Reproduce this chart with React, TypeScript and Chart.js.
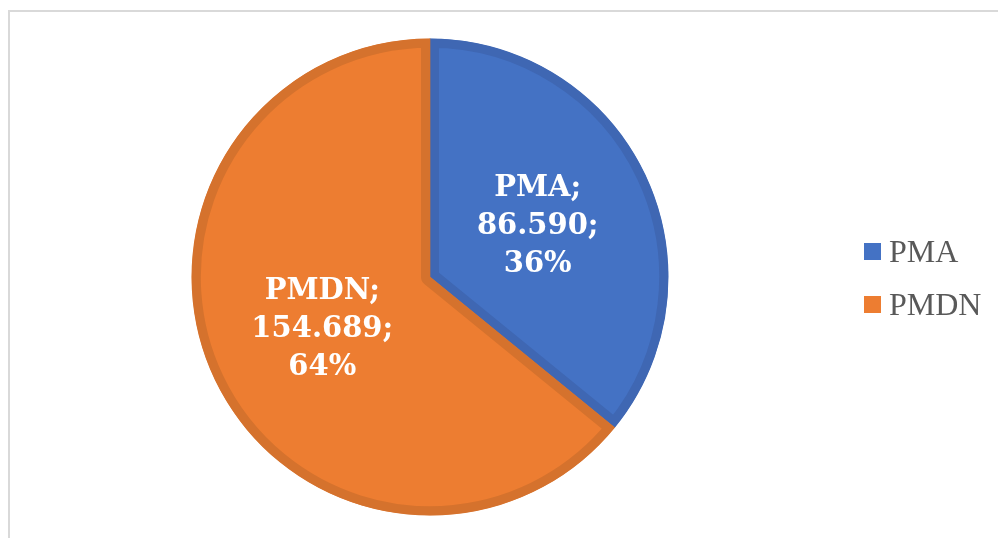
import React, { useEffect, useRef } from "react";
import { Chart, registerables } from "chart.js";

Chart.register(...registerables);

const labels = ["PMA", "PMDN"];
const values = [86.59, 154.689];
const valueTexts = ["86.590", "154.689"];
const percentTexts = ["36%", "64%"];
const fillColors = ["#4472C4", "#ED7D31"];
const borderColors = ["#3F67B3", "#D5722D"];

const framePlugin = {
  id: "frame",
  beforeDraw(chart: any) {
    const ctx = chart.ctx;
    ctx.save();
    ctx.fillStyle = "#ffffff";
    ctx.fillRect(0, 0, chart.width, chart.height);
    ctx.strokeStyle = "#D9D9D9";
    ctx.lineWidth = 2;
    ctx.strokeRect(9, 11, chart.width + 20, chart.height + 20);
    ctx.restore();
  },
};

const labelPlugin = {
  id: "sliceLabels",
  afterDatasetsDraw(chart: any) {
    const ctx = chart.ctx;
    const meta = chart.getDatasetMeta(0);
    ctx.save();
    ctx.fillStyle = "#FFFFFF";
    ctx.font = "bold 29px 'DejaVu Serif'";
    ctx.textAlign = "center";
    ctx.textBaseline = "middle";
    meta.data.forEach((arc: any, i: number) => {
      const p = arc.tooltipPosition();
      const lines = [labels[i] + ";", valueTexts[i] + ";", percentTexts[i]];
      const lh = 38;
      lines.forEach((t, j) => {
        ctx.fillText(t, p.x, p.y + (j - 1) * lh + 1);
      });
    });
    ctx.restore();
  },
};

const legendPlugin = {
  id: "customLegend",
  afterDraw(chart: any) {
    const ctx = chart.ctx;
    ctx.save();
    ctx.font = "32px 'Liberation Serif'";
    ctx.textBaseline = "alphabetic";
    ctx.textAlign = "left";
    const ds = chart.data.datasets[0];
    chart.data.labels.forEach((lab: string, i: number) => {
      const y = 243 + i * 53;
      ctx.fillStyle = ds.backgroundColor[i];
      ctx.fillRect(864, y, 17, 17);
      ctx.fillStyle = ds.borderColor[i];
      ctx.fillStyle = "#595959";
      ctx.fillText(lab, 889, y + 19);
    });
    ctx.restore();
  },
};

export default function App() {
  const ref = useRef<HTMLCanvasElement>(null);
  useEffect(() => {
    document.body.style.margin = "0";
    const chart = new Chart(ref.current as HTMLCanvasElement, {
      type: "pie",
      data: {
        labels,
        datasets: [
          {
            data: values,
            backgroundColor: fillColors,
            borderColor: borderColors,
            borderWidth: 9,
            borderAlign: "inner",
          } as any,
        ],
      },
      options: {
        animation: false,
        responsive: false,
        radius: 238.5,
        layout: { padding: { left: 0, right: 138, top: 16, bottom: 0 } },
        plugins: {
          legend: { display: false },
          tooltip: { enabled: false },
        },
      } as any,
      plugins: [framePlugin, labelPlugin, legendPlugin],
    });
    return () => chart.destroy();
  }, []);
  return (
    <div style={{ width: 998, height: 538 }}>
      <canvas ref={ref} width={998} height={538} style={{ display: "block" }} />
    </div>
  );
}
